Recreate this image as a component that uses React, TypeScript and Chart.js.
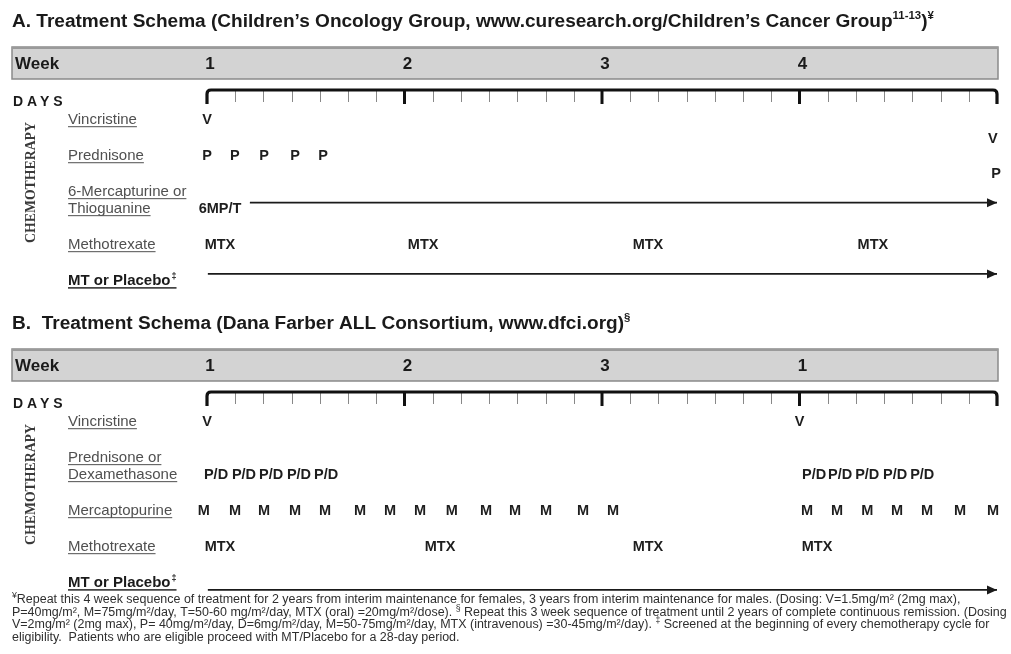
import React, { useEffect, useRef } from 'react';
import { Chart, registerables } from 'chart.js';

Chart.register(...registerables);

type Run = { t: string; sup?: boolean };
type Pt = [number, number]; // [day, row]

// ---------------- data ----------------
const FIRST_DAY = 1;
const LAST_DAY = 29;
const weekStartDays = [1, 8, 15, 22];
const majorTickDays = [8, 15, 22];
const weekLabelsA = ['1', '2', '3', '4'];
const weekLabelsB = ['1', '2', '3', '1'];

const titleA: Run[] = [
  { t: 'A. Treatment Schema (Children\u2019s Oncology Group, www.curesearch.org/Children\u2019s Cancer Group' },
  { t: '11-13', sup: true },
  { t: ')' },
  { t: '\u00a5', sup: true },
];
const titleB: Run[] = [
  { t: 'B.  Treatment Schema (Dana Farber ALL Consortium, www.dfci.org)' },
  { t: '\u00a7', sup: true },
];

const rowLabelsA = [['Vincristine'], ['Prednisone'], ['6-Mercapturine or', 'Thioguanine'], ['Methotrexate'], ['MT or Placebo']];
const rowSupA = ['', '', '', '', '\u2021'];
const rowLabelsB = [['Vincristine'], ['Prednisone or', 'Dexamethasone'], ['Mercaptopurine'], ['Methotrexate'], ['MT or Placebo']];
const rowSupB = ['', '', '', '', '\u2021'];

// Panel A marks
const aVincristine: Pt[] = [[1, 0], [28.85, 0.53]];
const aPrednisone: Pt[] = [[1, 1], [1.99, 1], [3.02, 1], [4.12, 1], [5.11, 1], [28.97, 1.34]];
const aThioguanine: Pt[] = [[1.46, 2]];
const aThioguanineArrow: Pt[] = [[2.52, 1.9], [29, 1.9]];
const aMethotrexate: Pt[] = [[1.46, 3], [8.66, 3], [16.63, 3], [24.6, 3]];
const aPlaceboArrow: Pt[] = [[1.03, 3.83], [29, 3.83]];

// Panel B marks
const bVincristine: Pt[] = [[1, 0], [22, 0]];
const bPredDexa: Pt[] = [
  [1.32, 1], [2.31, 1], [3.27, 1], [4.26, 1], [5.22, 1],
  [22.52, 1], [23.44, 1], [24.4, 1], [25.39, 1], [26.35, 1],
];
const bMercaptopurine: Pt[] = [
  [0.89, 2], [1.99, 2], [3.02, 2], [4.12, 2], [5.18, 2], [6.42, 2], [7.49, 2],
  [8.55, 2], [9.68, 2], [10.89, 2], [11.92, 2], [13.02, 2], [14.33, 2], [15.39, 2],
  [22.27, 2], [23.33, 2], [24.4, 2], [25.46, 2], [26.52, 2], [27.69, 2], [28.86, 2],
];
const bMethotrexate: Pt[] = [[1.46, 3], [9.26, 3], [16.63, 3], [22.62, 3]];
const bPlaceboArrow: Pt[] = [[1.03, 4.22], [29, 4.22]];

const footnoteLines: Run[][] = [
  [
    { t: '\u00a5', sup: true },
    { t: 'Repeat this 4 week sequence of treatment for 2 years from interim maintenance for females, 3 years from interim maintenance for males. (Dosing: V=1.5mg/m\u00b2 (2mg max),' },
  ],
  [
    { t: 'P=40mg/m\u00b2, M=75mg/m\u00b2/day, T=50-60 mg/m\u00b2/day, MTX (oral) =20mg/m\u00b2/dose). ' },
    { t: '\u00a7', sup: true },
    { t: ' Repeat this 3 week sequence of treatment until 2 years of complete continuous remission. (Dosing' },
  ],
  [
    { t: 'V=2mg/m\u00b2 (2mg max), P= 40mg/m\u00b2/day, D=6mg/m\u00b2/day, M=50-75mg/m\u00b2/day, MTX (intravenous) =30-45mg/m\u00b2/day). ' },
    { t: '\u2021', sup: true },
    { t: ' Screened at the beginning of every chemotherapy cycle for' },
  ],
  [{ t: 'eligibility.  Patients who are eligible proceed with MT/Placebo for a 28-day period.' }],
];

// ---------------- styling / layout ----------------
const W = 1011;
const F = '"Liberation Sans", Arial, Helvetica, sans-serif';
const FS = '"Liberation Serif", "Times New Roman", serif';
const ROW_TOP = 119;
const ROWS_SPAN = 161;
const PLOT_LEFT = 207;
const PLOT_RIGHT = 997;
const LINE_GAP = 1;
const EXTRA_LINE = 0.47;

type MarkSeries = { text: string; points: Pt[] };
type PanelSpec = {
  key: string;
  height: number;
  title: Run[];
  weekLabels: string[];
  rows: string[][];
  rowSup: string[];
  marks: MarkSeries[];
  arrows: Pt[][];
  footnotes?: Run[][];
};

const panelA: PanelSpec = {
  key: 'A',
  height: 302,
  title: titleA,
  weekLabels: weekLabelsA,
  rows: rowLabelsA,
  rowSup: rowSupA,
  marks: [
    { text: 'V', points: aVincristine },
    { text: 'P', points: aPrednisone },
    { text: '6MP/T', points: aThioguanine },
    { text: 'MTX', points: aMethotrexate },
  ],
  arrows: [aThioguanineArrow, aPlaceboArrow],
};

const panelB: PanelSpec = {
  key: 'B',
  height: 352,
  title: titleB,
  weekLabels: weekLabelsB,
  rows: rowLabelsB,
  rowSup: rowSupB,
  marks: [
    { text: 'V', points: bVincristine },
    { text: 'P/D', points: bPredDexa },
    { text: 'M', points: bMercaptopurine },
    { text: 'MTX', points: bMethotrexate },
  ],
  arrows: [bPlaceboArrow],
  footnotes: footnoteLines,
};

function lanesFor(rows: string[][]) {
  const out = [0];
  for (let i = 1; i < rows.length; i++) out.push(out[i - 1] + LINE_GAP + EXTRA_LINE * (rows[i].length - 1));
  return out;
}
function laneAt(lanes: number[], r: number) {
  const n = lanes.length;
  if (r >= n - 1) return lanes[n - 1] + (r - (n - 1)) * LINE_GAP;
  const i = Math.floor(r);
  return lanes[i] + (r - i) * (lanes[i + 1] - lanes[i]);
}

function runsWidth(ctx: CanvasRenderingContext2D, runs: Run[], size: number, weight: string, supScale: number) {
  let w = 0;
  for (const r of runs) {
    ctx.font = `${weight} ${r.sup ? size * supScale : size}px ${F}`;
    w += ctx.measureText(r.t).width;
  }
  return w;
}
function drawRuns(ctx: CanvasRenderingContext2D, runs: Run[], x: number, y: number, size: number, weight: string, color: string, supScale: number) {
  let cx = x;
  ctx.fillStyle = color;
  ctx.textAlign = 'left';
  ctx.textBaseline = 'alphabetic';
  for (const r of runs) {
    ctx.font = `${weight} ${r.sup ? size * supScale : size}px ${F}`;
    ctx.fillText(r.t, cx, r.sup ? y - size * 0.4 : y);
    cx += ctx.measureText(r.t).width;
  }
  return cx;
}

function makeSchemaPlugin(spec: PanelSpec, lanes: number[]) {
  return {
    id: 'schema' + spec.key,
    beforeDraw(chart: any) {
      const ctx: CanvasRenderingContext2D = chart.ctx;
      const xs = chart.scales.x;
      const ys = chart.scales.y;
      ctx.save();
      ctx.fillStyle = '#ffffff';
      ctx.fillRect(0, 0, chart.width, chart.height);

      // title (size fitted so panel A title spans like the reference)
      ctx.font = `bold 20px ${F}`;
      const titleSize = (20 * 881) / ctx.measureText(titleA[0].t).width;
      drawRuns(ctx, spec.title, 12, 27, titleSize, 'bold', '#1a1a1a', 0.6);

      // week band
      const bx = 12, by = 47, bw = 998 - 12, bh = 32;
      ctx.fillStyle = '#d3d3d3';
      ctx.fillRect(bx, by, bw, bh);
      ctx.strokeStyle = '#8a8a8a';
      ctx.lineWidth = 1.5;
      ctx.strokeRect(bx, by, bw, bh);
      ctx.fillStyle = '#9a9a9a';
      ctx.fillRect(bx, by, bw, 2);
      ctx.fillStyle = '#1a1a1a';
      ctx.font = `bold 17px ${F}`;
      ctx.textBaseline = 'alphabetic';
      ctx.textAlign = 'left';
      ctx.fillText('Week', 15, 69);
      ctx.textAlign = 'center';
      spec.weekLabels.forEach((lab, i) => {
        ctx.fillText(lab, xs.getPixelForValue(weekStartDays[i]) + 3, 69);
      });

      // DAYS
      ctx.textAlign = 'left';
      ctx.font = `bold 14px ${F}`;
      (ctx as any).letterSpacing = '4px';
      ctx.fillText('DAYS', 13, 106);
      (ctx as any).letterSpacing = '0px';

      // timeline
      const ty = 90, tb = 104;
      const x1 = xs.getPixelForValue(FIRST_DAY);
      const x2 = xs.getPixelForValue(LAST_DAY);
      ctx.strokeStyle = '#888';
      ctx.lineWidth = 1;
      for (let d = FIRST_DAY + 1; d < LAST_DAY; d++) {
        if (majorTickDays.includes(d)) continue;
        const px = Math.round(xs.getPixelForValue(d)) + 0.5;
        ctx.beginPath();
        ctx.moveTo(px, ty);
        ctx.lineTo(px, tb - 2);
        ctx.stroke();
      }
      ctx.strokeStyle = '#111';
      ctx.lineWidth = 3;
      majorTickDays.forEach((d) => {
        const px = xs.getPixelForValue(d);
        ctx.beginPath();
        ctx.moveTo(px, ty);
        ctx.lineTo(px, tb);
        ctx.stroke();
      });
      ctx.lineWidth = 3.2;
      ctx.beginPath();
      ctx.moveTo(x1, tb);
      ctx.lineTo(x1, ty + 4);
      ctx.quadraticCurveTo(x1, ty, x1 + 4, ty);
      ctx.lineTo(x2 - 4, ty);
      ctx.quadraticCurveTo(x2, ty, x2, ty + 4);
      ctx.lineTo(x2, tb);
      ctx.stroke();

      // CHEMOTHERAPY vertical label
      const y0 = ys.getPixelForValue(lanes[0]);
      const y3 = ys.getPixelForValue(lanes[3]);
      const span = y3 - y0 - 4;
      ctx.font = `bold 20px ${FS}`;
      const cSize = (20 * span) / ctx.measureText('CHEMOTHERAPY').width;
      ctx.save();
      ctx.translate(31, (y0 + y3) / 2 + 1);
      ctx.rotate(-Math.PI / 2);
      ctx.font = `bold ${cSize}px ${FS}`;
      ctx.fillStyle = '#3a3a3a';
      ctx.textAlign = 'center';
      ctx.textBaseline = 'middle';
      ctx.fillText('CHEMOTHERAPY', 0, 0);
      ctx.restore();

      // row labels (underlined)
      spec.rows.forEach((lines, i) => {
        const yy = ys.getPixelForValue(lanes[i]);
        const isBold = spec.rowSup[i] !== '';
        const size = 15;
        lines.forEach((ln, j) => {
          const base = yy - (lines.length - 1 - j) * 17 + 5.4;
          ctx.font = `${isBold ? 'bold ' : ''}${size}px ${F}`;
          ctx.fillStyle = isBold ? '#1a1a1a' : '#505050';
          ctx.textAlign = 'left';
          ctx.textBaseline = 'alphabetic';
          ctx.fillText(ln, 68, base);
          let w = ctx.measureText(ln).width;
          if (isBold && j === lines.length - 1) {
            ctx.font = `bold ${size * 0.6}px ${F}`;
            ctx.fillText(spec.rowSup[i], 68 + w + 1, base - 6);
            w += ctx.measureText(spec.rowSup[i]).width + 1;
          }
          ctx.fillRect(68, base + 1.8, w, isBold ? 1.4 : 1);
        });
      });
      ctx.restore();
    },
    afterDatasetsDraw(chart: any) {
      const ctx: CanvasRenderingContext2D = chart.ctx;
      ctx.save();
      const size = 14.5;
      chart.data.datasets.forEach((ds: any, i: number) => {
        const meta = chart.getDatasetMeta(i);
        if (ds.markText) {
          ctx.font = `bold ${size}px ${F}`;
          ctx.fillStyle = '#1e1e1e';
          ctx.textAlign = 'center';
          ctx.textBaseline = 'alphabetic';
          meta.data.forEach((pt: any) => ctx.fillText(ds.markText, pt.x, pt.y + size * 0.36));
        }
        if (ds.arrowHead) {
          const p = meta.data[meta.data.length - 1];
          ctx.fillStyle = '#1a1a1a';
          ctx.beginPath();
          ctx.moveTo(p.x, p.y);
          ctx.lineTo(p.x - 10, p.y - 4.5);
          ctx.lineTo(p.x - 10, p.y + 4.5);
          ctx.closePath();
          ctx.fill();
        }
      });
      ctx.restore();
    },
    afterDraw(chart: any) {
      if (!spec.footnotes) return;
      const ctx: CanvasRenderingContext2D = chart.ctx;
      ctx.save();
      const fitW = runsWidth(ctx, spec.footnotes[1], 10, 'normal', 0.7);
      const size = (10 * 996) / fitW;
      spec.footnotes.forEach((line, i) => {
        drawRuns(ctx, line, 12, 301 + i * 12.5, size, 'normal', '#2e2e2e', 0.7);
      });
      ctx.restore();
    },
  };
}

function Panel({ spec }: { spec: PanelSpec }) {
  const ref = useRef<HTMLCanvasElement | null>(null);
  useEffect(() => {
    const canvas = ref.current;
    if (!canvas) return;
    const lanes = lanesFor(spec.rows);
    const toXY = (pts: Pt[]) => pts.map(([d, r]) => ({ x: d, y: laneAt(lanes, r) }));
    const datasets: any[] = [
      ...spec.marks.map((m) => ({
        data: toXY(m.points),
        markText: m.text,
        pointRadius: 0,
        pointHoverRadius: 0,
        showLine: false,
        clip: false,
      })),
      ...spec.arrows.map((a) => ({
        data: toXY(a),
        arrowHead: true,
        showLine: true,
        borderColor: '#1a1a1a',
        borderWidth: 1.7,
        pointRadius: 0,
        pointHoverRadius: 0,
        tension: 0,
        clip: false,
      })),
    ];
    const chart = new Chart(canvas, {
      type: 'scatter',
      data: { datasets },
      options: {
        responsive: false,
        animation: false,
        devicePixelRatio: 1,
        events: [],
        layout: {
          padding: {
            left: PLOT_LEFT,
            right: W - PLOT_RIGHT,
            top: ROW_TOP,
            bottom: spec.height - ROW_TOP - ROWS_SPAN,
          },
        },
        scales: {
          x: { type: 'linear', min: FIRST_DAY, max: LAST_DAY, display: false },
          y: { type: 'linear', reverse: true, min: 0, max: lanes[lanes.length - 1], display: false },
        },
        plugins: { legend: { display: false }, tooltip: { enabled: false } },
      } as any,
      plugins: [makeSchemaPlugin(spec, lanes) as any],
    });
    return () => chart.destroy();
  }, [spec]);
  return <canvas ref={ref} width={W} height={spec.height} style={{ display: 'block', width: W, height: spec.height }} />;
}

export default function App() {
  return (
    <div style={{ position: 'absolute', left: 0, top: 0, width: W, height: 654, background: '#fff' }}>
      <Panel spec={panelA} />
      <Panel spec={panelB} />
    </div>
  );
}
